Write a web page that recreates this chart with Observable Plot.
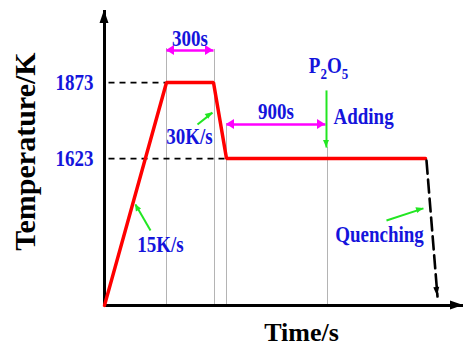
<!DOCTYPE html>
<html><head><meta charset="utf-8">
<script src="https://cdn.jsdelivr.net/npm/d3@7"></script>
<script src="https://cdn.jsdelivr.net/npm/@observablehq/plot@0.6"></script>
<style>body{margin:0;background:#fff}#chart svg{display:block}</style>
</head><body><div id="chart"></div>
<script>
// Schematic scales: time (arbitrary schematic units) and temperature (K)
const xDomain = [0, 359];
const yDomain = [1139.5, 2110];
const yTicks = [1623, 1873];

// Thermal profile
const profileTime = [0, 62, 109, 122, 321];
const profileTemp = [1140, 1873, 1873, 1623, 1623];
const quenchTime = [322, 333];
const quenchTemp = [1616, 1169];

// Dashed reference lines to the temperature ticks
const refTemp = [1873, 1623];
const refStartTime = [4, 4];
const refEndTime = [62, 122];

// Thin vertical guides
const guideTime = [62, 110, 122, 223];
const guideTopTemp = [1985, 1982, 1738, 1659];

// Holding-time spans
const spanLabels = ["300s", "900s"];
const spanStart = [62, 122];
const spanEnd = [109, 221];
const spanTemp = [1978, 1735];

// Green pointer arrows
const pointerTailTime = [93, 46, 222, 282];
const pointerTailTemp = [1735, 1386, 1847, 1419];
const pointerTipTime = [108, 31, 222, 319];
const pointerTipTemp = [1774, 1472, 1659, 1459];

// Annotations
const noteText = ["30K/s", "15K/s", "P2O5", "Quenching"];
const noteTime = [85, 56, 224, 275];
const noteTemp = [1672, 1314, 1906, 1347];
const sideNoteText = ["Adding"];
const sideNoteTime = [229];
const sideNoteTemp = [1735];
const xLabel = ["Time/s"];
const xLabelTime = [197];
const yLabel = ["Temperature/K"];
const yLabelTemp = [1646];

const BLUE = "#1414dc", RED = "#ff0000", MAGENTA = "#ff00ff", GREEN = "#22e622";

const profile = profileTime.map((t, i) => ({t, T: profileTemp[i]}));
const quench = quenchTime.map((t, i) => ({t, T: quenchTemp[i]}));
const refs = refTemp.map((T, i) => ({T, t1: refStartTime[i], t2: refEndTime[i]}));
const guides = guideTime.map((t, i) => ({t, top: guideTopTemp[i]}));
const spans = spanLabels.map((s, i) => ({s, t1: spanStart[i], t2: spanEnd[i], T: spanTemp[i], mid: (spanStart[i] + spanEnd[i]) / 2}));
const pointers = pointerTailTime.map((t, i) => ({t1: t, T1: pointerTailTemp[i], t2: pointerTipTime[i], T2: pointerTipTemp[i]}));
const notes = noteText.map((s, i) => ({s, t: noteTime[i], T: noteTemp[i]}));
const sideNotes = sideNoteText.map((s, i) => ({s, t: sideNoteTime[i], T: sideNoteTemp[i]}));

// Arrowhead specifications (direction from data, size is style)
const heads = [
  {x1: 0, y1: yDomain[0], x2: 0, y2: yDomain[1], len: 13, wid: 9, fill: "#000"},
  {x1: xDomain[0], y1: yDomain[0], x2: xDomain[1], y2: yDomain[0], len: 13, wid: 9, fill: "#000"},
  ...spans.flatMap(d => [
    {x1: d.t2, y1: d.T, x2: d.t1, y2: d.T, len: 8, wid: 10, fill: MAGENTA},
    {x1: d.t1, y1: d.T, x2: d.t2, y2: d.T, len: 8, wid: 10, fill: MAGENTA}
  ]),
  ...pointers.map(d => ({x1: d.t1, y1: d.T1, x2: d.t2, y2: d.T2, len: 7, wid: 6, fill: GREEN})),
  {x1: quenchTime[0], y1: quenchTemp[0], x2: quenchTime[1], y2: quenchTemp[1], len: 9, wid: 6, fill: "#000"}
];

function arrowHeads(index, scales) {
  const g = d3.create("svg:g");
  for (const h of heads) {
    const x1 = scales.x(h.x1), y1 = scales.y(h.y1), x2 = scales.x(h.x2), y2 = scales.y(h.y2);
    const a = Math.atan2(y2 - y1, x2 - x1);
    const bx = x2 - h.len * Math.cos(a), by = y2 - h.len * Math.sin(a);
    const px = -Math.sin(a) * h.wid / 2, py = Math.cos(a) * h.wid / 2;
    g.append("path")
      .attr("d", `M${x2},${y2}L${bx + px},${by + py}L${bx - px},${by - py}Z`)
      .attr("fill", h.fill);
  }
  return g.node();
}

const textStyle = {fontSize: 19, fontWeight: "bold", lineAnchor: "bottom"};

const chart = Plot.plot({
  width: 464,
  height: 345,
  marginTop: 10,
  marginRight: 1,
  marginBottom: 40,
  marginLeft: 104,
  style: {fontFamily: "'Liberation Serif', 'Times New Roman', serif", background: "#fff", overflow: "visible"},
  x: {domain: xDomain, axis: null},
  y: {domain: yDomain},
  marks: [
    Plot.axisY({ticks: yTicks, tickSize: 0, tickPadding: 11, tickFormat: d => String(d), fontSize: 19, fontWeight: "bold", color: BLUE, label: null}),
    Plot.ruleX(guides, {x: "t", y1: yDomain[0], y2: "top", stroke: "#b4b4b4", strokeWidth: 1}),
    Plot.link(refs, {x1: "t1", x2: "t2", y1: "T", y2: "T", stroke: "#000", strokeWidth: 1.8, strokeDasharray: "6,5"}),
    Plot.ruleX([0], {y1: yDomain[0], y2: yDomain[1], stroke: "#000", strokeWidth: 3}),
    Plot.ruleY([yDomain[0]], {x1: xDomain[0], x2: xDomain[1], stroke: "#000", strokeWidth: 3}),
    Plot.line(profile, {x: "t", y: "T", stroke: RED, strokeWidth: 3.5, strokeLinejoin: "miter"}),
    Plot.line(quench, {x: "t", y: "T", stroke: "#000", strokeWidth: 2.6, strokeDasharray: "13,6"}),
    Plot.link(spans, {x1: "t1", x2: "t2", y1: "T", y2: "T", stroke: MAGENTA, strokeWidth: 2.5}),
    Plot.link(pointers, {x1: "t1", y1: "T1", x2: "t2", y2: "T2", stroke: GREEN, strokeWidth: 2}),
    arrowHeads,
    Plot.text(spans, {x: "mid", y: "T", text: "s", dy: -5, fill: BLUE, ...textStyle}),
    Plot.text(notes, {x: "t", y: "T", text: "s", fill: BLUE, ...textStyle}),
    Plot.text(sideNotes, {x: "t", y: "T", text: "s", fill: BLUE, textAnchor: "start", ...textStyle}),
    Plot.text(xLabel, {x: xLabelTime, frameAnchor: "bottom", text: d => d, dy: 35, fill: "#000", fontSize: 26, fontWeight: "bold", lineAnchor: "bottom"}),
    Plot.text(yLabel, {x: [0], y: yLabelTemp, text: d => d, dx: -79, rotate: -90, fill: "#000", fontSize: 30, fontWeight: "bold", lineAnchor: "middle"})
  ]
});

// Chemical formula subscripts
d3.select(chart).selectAll("text").filter(function () { return this.textContent === "P2O5"; })
  .each(function () {
    const t = d3.select(this);
    t.text(null);
    t.append("tspan").text("P");
    t.append("tspan").attr("font-size", 13).attr("dy", 5).text("2");
    t.append("tspan").attr("dy", -5).text("O");
    t.append("tspan").attr("font-size", 13).attr("dy", 5).text("5");
  });

// The blue lettering of the original is drawn slightly taller than wide
d3.select(chart).selectAll(`g[fill="${BLUE}"] text`).each(function () {
  const tr = this.getAttribute("transform") || "";
  this.setAttribute("transform", `${tr} scale(1,1.2)`);
});

document.getElementById("chart").appendChild(chart);
</script>
</body></html>
